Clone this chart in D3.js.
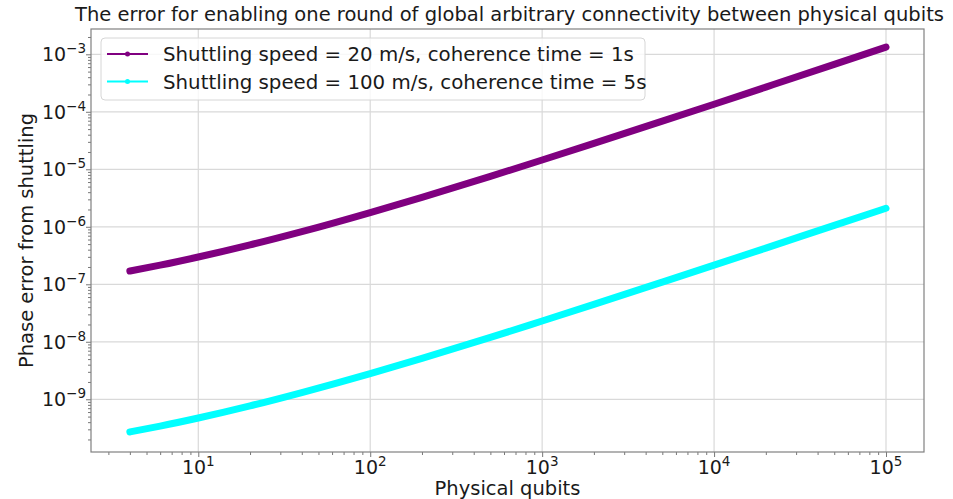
<!DOCTYPE html>
<html>
<head>
<meta charset="utf-8">
<script src="https://cdn.jsdelivr.net/npm/d3@7"></script>
<style>
    body { margin: 0; background: white; }
    text { font-family: "DejaVu Sans", sans-serif; fill: #1a1a1a; }
</style>
</head>
<body>
<div class="chart"></div>
<script>
// physical qubits (x) and phase error
let qubits = [4, 6, 10, 20, 40, 100, 200, 500, 1000, 2000, 5000, 1e4, 2e4, 5e4, 1e5];
let errSlow = [1.70e-7, 2.15e-7, 2.98e-7, 4.84e-7, 8.24e-7, 1.77e-6, 3.26e-6, 7.53e-6,
               1.45e-5, 2.82e-5, 6.87e-5, 1.355e-4, 2.69e-4, 6.67e-4, 1.33e-3];
let errFast = [2.70e-10, 3.41e-10, 4.72e-10, 7.67e-10, 1.31e-9, 2.80e-9, 5.16e-9, 1.19e-8,
               2.30e-8, 4.47e-8, 1.09e-7, 2.15e-7, 4.26e-7, 1.06e-6, 2.10e-6];
let seriesNames = ["Shuttling speed = 20 m/s, coherence time = 1s",
                   "Shuttling speed = 100 m/s, coherence time = 5s"];
let seriesColors = ["purple", "cyan"];
let xTickExps = [1, 2, 3, 4, 5];
let yTickExps = [-9, -8, -7, -6, -5, -4, -3];

const svgW = 953;
const svgH = 499;
const margin = {top: 29, right: 29, bottom: 47, left: 91};
const fontSize = 19.5;

const svg = d3.select("div.chart")
    .append("svg")
        .attr("width", svgW)
        .attr("height", svgH);

const x = d3.scaleLog()
    .domain([Math.pow(10, 0.376), Math.pow(10, 5.221)])
    .range([margin.left, svgW - margin.right]);
const y = d3.scaleLog()
    .domain([Math.pow(10, -9.917), Math.pow(10, -2.56)])
    .range([svgH - margin.bottom, margin.top]);

function minorTicks(scale) {
    let [a, b] = scale.domain();
    let out = [];
    for (let e = Math.floor(Math.log10(a)); e <= Math.ceil(Math.log10(b)); e++) {
        for (let m = 2; m < 10; m++) {
            let v = m * Math.pow(10, e);
            if (v >= a && v <= b) out.push(v);
        }
    }
    return out;
}

// grid
svg.append("g")
    .selectAll("line")
    .data(xTickExps)
    .join("line")
    .attr("x1", d => x(Math.pow(10, d))).attr("x2", d => x(Math.pow(10, d)))
    .attr("y1", margin.top).attr("y2", svgH - margin.bottom)
    .attr("stroke", "#d9d9d9").attr("stroke-width", 1.2);
svg.append("g")
    .selectAll("line")
    .data(yTickExps)
    .join("line")
    .attr("y1", d => y(Math.pow(10, d))).attr("y2", d => y(Math.pow(10, d)))
    .attr("x1", margin.left).attr("x2", svgW - margin.right)
    .attr("stroke", "#d9d9d9").attr("stroke-width", 1.2);

// curves
const line = d3.line()
    .x(d => x(d[0]))
    .y(d => y(d[1]))
    .curve(d3.curveMonotoneX);

[errSlow, errFast].forEach((vals, i) => {
    svg.append("path")
        .datum(qubits.map((q, j) => [q, vals[j]]))
        .attr("d", line)
        .attr("fill", "none")
        .attr("stroke", seriesColors[i])
        .attr("stroke-width", 7)
        .attr("stroke-linecap", "round")
        .attr("stroke-linejoin", "round");
});

// axes
svg.append("g")
    .attr("transform", `translate(0,${svgH - margin.bottom})`)
    .call(d3.axisBottom(x).tickValues(xTickExps.map(e => Math.pow(10, e))).tickSize(5).tickFormat(""));
svg.append("g")
    .attr("transform", `translate(0,${svgH - margin.bottom})`)
    .call(d3.axisBottom(x).tickValues(minorTicks(x)).tickSize(3).tickFormat(""));
svg.append("g")
    .attr("transform", `translate(${margin.left},0)`)
    .call(d3.axisLeft(y).tickValues(yTickExps.map(e => Math.pow(10, e))).tickSize(5).tickFormat(""));
svg.append("g")
    .attr("transform", `translate(${margin.left},0)`)
    .call(d3.axisLeft(y).tickValues(minorTicks(y)).tickSize(3).tickFormat(""));
svg.selectAll(".domain").remove();
svg.selectAll(".tick line").attr("stroke", "#555").attr("stroke-width", 0.8);

// frame
svg.append("rect")
    .attr("x", margin.left).attr("y", margin.top)
    .attr("width", svgW - margin.left - margin.right)
    .attr("height", svgH - margin.top - margin.bottom)
    .attr("fill", "none")
    .attr("stroke", "#808080")
    .attr("stroke-width", 1.2);

// tick labels
function powerLabel(sel, e) {
    sel.append("tspan").text("10");
    sel.append("tspan")
        .attr("dy", -8)
        .attr("font-size", 13.5)
        .text(String(e).replace("-", "\u2212"));
}

svg.append("g")
    .selectAll("text")
    .data(xTickExps)
    .join("text")
    .attr("x", d => x(Math.pow(10, d)))
    .attr("y", svgH - margin.bottom + 22)
    .attr("text-anchor", "middle")
    .attr("font-size", 19)
    .each(function(d) { powerLabel(d3.select(this), d); });

svg.append("g")
    .selectAll("text")
    .data(yTickExps)
    .join("text")
    .attr("x", margin.left - 5)
    .attr("y", d => y(Math.pow(10, d)) + 7)
    .attr("text-anchor", "end")
    .attr("font-size", 19)
    .each(function(d) { powerLabel(d3.select(this), d); });

// titles
svg.append("text")
    .attr("x", (margin.left + svgW - margin.right) / 2 + 2)
    .attr("y", 21)
    .attr("text-anchor", "middle")
    .attr("font-size", fontSize)
    .text("The error for enabling one round of global arbitrary connectivity between physical qubits");
svg.append("text")
    .attr("x", (margin.left + svgW - margin.right) / 2)
    .attr("y", 495)
    .attr("text-anchor", "middle")
    .attr("font-size", fontSize)
    .text("Physical qubits");
svg.append("text")
    .attr("transform", `translate(33,${(margin.top + svgH - margin.bottom) / 2}) rotate(-90)`)
    .attr("text-anchor", "middle")
    .attr("font-size", fontSize)
    .text("Phase error from shuttling");

// legend
const legend = svg.append("g").attr("transform", "translate(101,38)");
legend.append("rect")
    .attr("width", 544).attr("height", 62)
    .attr("rx", 4)
    .attr("fill", "white").attr("fill-opacity", 0.8)
    .attr("stroke", "#d6d6d6").attr("stroke-width", 1);
seriesNames.forEach((name, i) => {
    let row = legend.append("g").attr("transform", `translate(0,${16 + i * 27.5})`);
    row.append("line")
        .attr("x1", 6).attr("x2", 47)
        .attr("stroke", seriesColors[i]).attr("stroke-width", 2);
    row.append("circle")
        .attr("cx", 26.5).attr("r", 2.5)
        .attr("fill", seriesColors[i]);
    row.append("text")
        .attr("x", 62).attr("y", 7)
        .attr("font-size", 19.8)
        .text(name);
});
</script>
</body>
</html>
